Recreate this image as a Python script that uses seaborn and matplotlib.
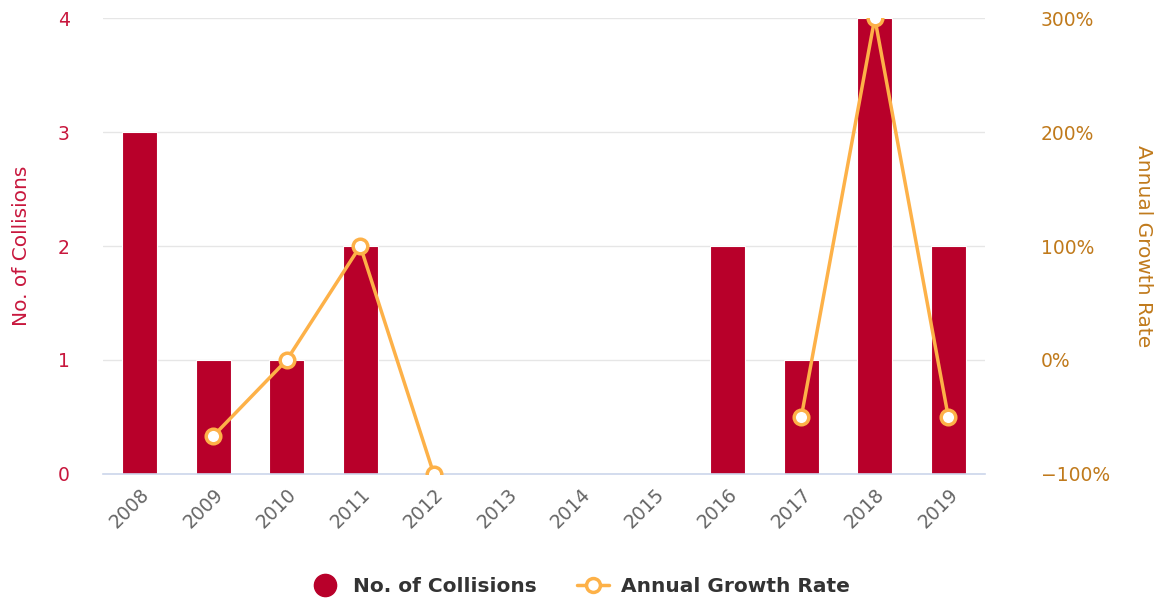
import numpy as np
import pandas as pd
import matplotlib
matplotlib.use("Agg")
import matplotlib.pyplot as plt
import seaborn as sns
from matplotlib.lines import Line2D
from matplotlib.ticker import FuncFormatter

years = ["2008", "2009", "2010", "2011", "2012", "2013", "2014", "2015",
         "2016", "2017", "2018", "2019"]
collisions = [3, 1, 1, 2, 0, 0, 0, 0, 2, 1, 4, 2]
growth_rate = [np.nan, -66.67, 0, 100, -100, np.nan, np.nan, np.nan,
               np.nan, -50, 300, -50]

BAR_COLOR = "#b8002a"
LINE_COLOR = "#fdb148"
LEFT_TXT = "#c8173d"
RIGHT_TXT = "#c07a1c"

sns.set_theme(style="white")
plt.rcParams["font.family"] = ["DejaVu Sans"]

df = pd.DataFrame({"year": years, "collisions": collisions, "growth": growth_rate})
df["pos"] = np.arange(len(years))
valid = df["growth"].notna()
df["seg"] = (valid != valid.shift()).cumsum()
line_df = df[valid]

fig = plt.figure(figsize=(11.59, 6.03), dpi=100)
ax = fig.add_axes([0.0889, 0.214, 0.761, 0.756])

sns.barplot(data=df, x="year", y="collisions", color=BAR_COLOR, width=0.48,
            saturation=1, ax=ax, edgecolor="white", linewidth=0.8)
ax.set_ylim(0, 4)
ax.set_xlim(-0.5, len(years) - 0.5)
ax.set_yticks([0, 1, 2, 3, 4])
ax.yaxis.grid(True, color="#e6e6e6", linewidth=1)
ax.set_axisbelow(True)
for s in ["top", "left", "right"]:
    ax.spines[s].set_visible(False)
ax.spines["bottom"].set_color("#ccd6eb")
ax.spines["bottom"].set_linewidth(1.2)
ax.tick_params(axis="y", colors=LEFT_TXT, labelsize=13.5, length=0, pad=24)
ax.tick_params(axis="x", colors="#666666", labelsize=13.5, length=0, pad=8)
for lbl in ax.get_xticklabels():
    lbl.set_rotation(45)
    lbl.set_ha("right")
    lbl.set_rotation_mode("anchor")
ax.set_xlabel("")
ax.set_ylabel("No. of Collisions", color=LEFT_TXT, fontsize=14.5, labelpad=19)

ax2 = ax.twinx()
sns.lineplot(data=line_df, x="pos", y="growth", units="seg", estimator=None,
             color=LINE_COLOR, linewidth=2.5, marker="o", markersize=10.5,
             markerfacecolor="white", markeredgecolor=LINE_COLOR,
             markeredgewidth=2.5, ax=ax2, legend=False)
ax2.set_ylim(-100, 300)
ax2.set_xlim(-0.5, len(years) - 0.5)
ax2.set_yticks([-100, 0, 100, 200, 300])
ax2.yaxis.set_major_formatter(FuncFormatter(lambda v, p: f"{int(v)}%".replace("-", "\u2212")))
for s in ["top", "left", "right", "bottom"]:
    ax2.spines[s].set_visible(False)
ax2.tick_params(axis="y", colors=RIGHT_TXT, labelsize=13.5, length=0, pad=40)
ax2.set_xlabel("")
ax2.set_ylabel("Annual Growth Rate", color=RIGHT_TXT, fontsize=14.5,
               rotation=270, labelpad=31)
for lbl in ax2.get_yticklabels():
    lbl.set_ha("left")

handles = [
    Line2D([], [], linestyle="none", marker="o", markersize=16,
           markerfacecolor=BAR_COLOR, markeredgecolor=BAR_COLOR),
    Line2D([], [], color=LINE_COLOR, linewidth=2.5, marker="o", markersize=10,
           markerfacecolor="white", markeredgecolor=LINE_COLOR, markeredgewidth=2.5),
]
fig.legend(handles, ["No. of Collisions", "Annual Growth Rate"],
           loc="center", bbox_to_anchor=(0.5, 0.027), ncol=2, frameon=False,
           prop={"weight": "bold", "size": 14.5}, labelcolor="#333333",
           handlelength=1.6, columnspacing=2.0, handletextpad=0.6)

fig.savefig("out.png", dpi=100)
